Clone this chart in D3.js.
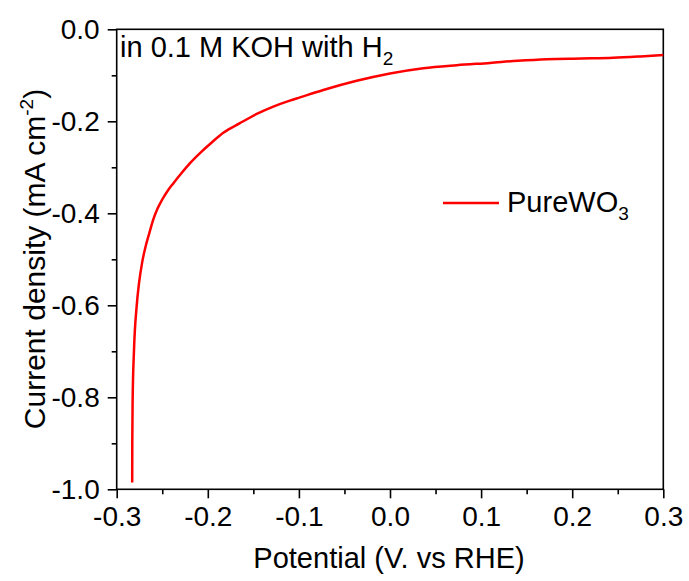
<!DOCTYPE html>
<html><head><meta charset="utf-8">
<script src="https://cdn.jsdelivr.net/npm/d3@7"></script>
<style>
html,body{margin:0;padding:0;background:#fff;}
svg text{font-family:"Liberation Sans",Arial,sans-serif;fill:#000;}
</style></head>
<body><svg id="c" width="689" height="581"></svg>
<script>
const potential = [-0.2830,-0.2829,-0.2825,-0.2810,-0.2780,-0.2755,-0.2719,-0.2680,-0.2642,-0.2598,-0.2550,-0.2500,-0.2440,-0.2379,-0.2290,-0.2195,-0.2080,-0.1957,-0.1830,-0.1647,-0.1463,-0.1281,-0.1100,-0.0988,-0.0732,-0.0366,0.0000,0.0366,0.0732,0.1098,0.1400,0.1720,0.2100,0.2450,0.2750,0.3000];
const current   = [-0.985,-0.900,-0.806,-0.697,-0.600,-0.552,-0.505,-0.470,-0.443,-0.413,-0.389,-0.370,-0.351,-0.335,-0.313,-0.291,-0.268,-0.246,-0.225,-0.204,-0.184,-0.168,-0.155,-0.148,-0.132,-0.112,-0.096,-0.0845,-0.078,-0.073,-0.0685,-0.065,-0.0635,-0.062,-0.059,-0.056];
const xTicks = [-0.3,-0.2,-0.1,0.0,0.1,0.2,0.3];
const xMinor = [-0.25,-0.15,-0.05,0.05,0.15,0.25];
const yTicks = [0.0,-0.2,-0.4,-0.6,-0.8,-1.0];
const yMinor = [-0.1,-0.3,-0.5,-0.7,-0.9];
const seriesName = "PureWO";
const annotation = "in 0.1 M KOH with H";

const svg = d3.select("#c");
const L=116.7,R=663.3,T=29.3,B=489.3;
const x = d3.scaleLinear().domain([-0.3,0.3]).range([L,R]);
const y = d3.scaleLinear().domain([-1,0]).range([B,T]);
const fmt = d => d3.format(".1f")(d).replace("\u2212","-");

const g = svg.append("g");
g.append("rect").attr("x",L).attr("y",T).attr("width",R-L).attr("height",B-T)
 .attr("fill","none").attr("stroke","#000").attr("stroke-width",1.6);

// x axis
const xa = g.append("g").attr("transform",`translate(0,${B})`)
 .call(d3.axisBottom(x).tickValues(xTicks).tickSize(9).tickFormat(fmt));
xa.select(".domain").remove();
xa.selectAll("line").attr("stroke-width",1.6);
xa.selectAll("text").style("font-size","28px").attr("dy",null).attr("y",37);
const xm = g.append("g").attr("transform",`translate(0,${B})`)
 .call(d3.axisBottom(x).tickValues(xMinor).tickSize(5).tickFormat(""));
xm.select(".domain").remove(); xm.selectAll("line").attr("stroke-width",1.6);

// y axis
const ya = g.append("g").attr("transform",`translate(${L},0)`)
 .call(d3.axisLeft(y).tickValues(yTicks).tickSize(9).tickFormat(fmt));
ya.select(".domain").remove();
ya.selectAll("line").attr("stroke-width",1.6);
ya.selectAll("text").style("font-size","28px").attr("x",-17);
const ym = g.append("g").attr("transform",`translate(${L},0)`)
 .call(d3.axisLeft(y).tickValues(yMinor).tickSize(5).tickFormat(""));
ym.select(".domain").remove(); ym.selectAll("line").attr("stroke-width",1.6);

// line
const data = potential.map((v,i)=>({v, j:current[i]}));
g.append("path").datum(data)
 .attr("fill","none").attr("stroke","#ff0000").attr("stroke-width",2.5)
 .attr("d", d3.line().x(d=>x(d.v)).y(d=>y(d.j)).curve(d3.curveMonotoneX));

// annotation
const an = g.append("text").attr("x",120).attr("y",57).style("font-size","29px");
an.append("tspan").text(annotation);
an.append("tspan").text("2").style("font-size","19px").attr("dy",8);

// legend
g.append("line").attr("x1",443).attr("x2",499).attr("y1",203).attr("y2",203)
 .attr("stroke","#ff0000").attr("stroke-width",2.5);
const lt = g.append("text").attr("x",507).attr("y",212).style("font-size","29px");
lt.append("tspan").text(seriesName);
lt.append("tspan").text("3").style("font-size","19px").attr("dy",8);

// axis titles
svg.append("text").attr("x",(L+R)/2 - 1).attr("y",568).attr("text-anchor","middle")
 .style("font-size","29px").text("Potential (V. vs RHE)");
const yt = svg.append("text").attr("transform",`translate(45,259) rotate(-90)`)
 .attr("text-anchor","middle").style("font-size","30px");
yt.append("tspan").text("Current density (mA cm");
yt.append("tspan").text("-2").style("font-size","19px").attr("dy",-12);
yt.append("tspan").text(")").attr("dy",12);
</script></body></html>
